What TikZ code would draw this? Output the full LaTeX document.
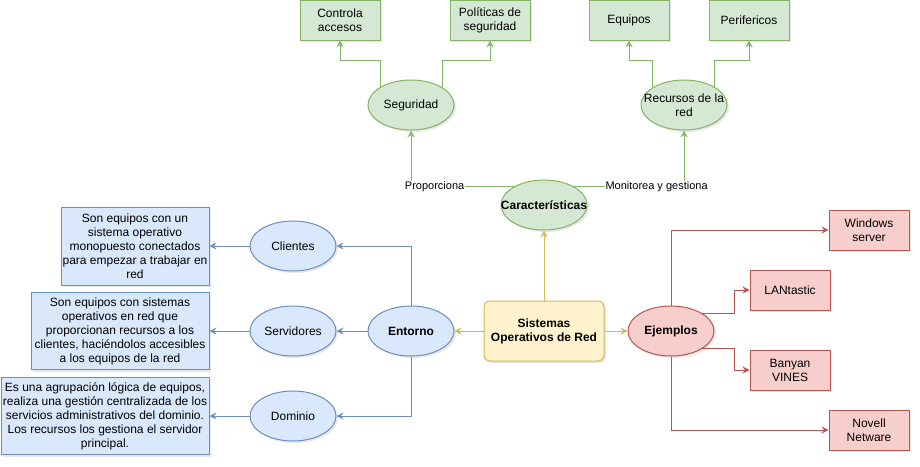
\documentclass[tikz,border=0pt]{standalone}
\usepackage{fontspec}
\setmainfont{Liberation Sans}
\usetikzlibrary{arrows.meta}
\usetikzlibrary{shapes.geometric}
\usetikzlibrary{shadows}
\definecolor{grnfill}{HTML}{D5E8D4}
\definecolor{grnline}{HTML}{82B366}
\definecolor{blufill}{HTML}{DAE8FC}
\definecolor{bluline}{HTML}{6C8EBF}
\definecolor{redfill}{HTML}{F8CECC}
\definecolor{redline}{HTML}{B85450}
\definecolor{yelfill}{HTML}{FFF2CC}
\definecolor{yelline}{HTML}{D6B656}
\tikzset{
	base/.style={line width=1pt,align=center,inner sep=0pt,
		font=\fontsize{12}{14}\selectfont,
		drop shadow={opacity=.18,shadow xshift=2pt,shadow yshift=-2pt}},
	box/.style={base,rectangle,minimum width=80pt,minimum height=40pt},
	oval/.style={base,ellipse,inner xsep=-15pt,minimum width=86pt,minimum height=50pt},
	green/.style={fill=grnfill,draw=grnline},
	blue/.style={fill=blufill,draw=bluline},
	red/.style={fill=redfill,draw=redline},
	tip/.style={-{Stealth[length=7pt,width=7pt,inset=2.5pt]},line width=1pt},
	lbl/.style={fill=white,text=black,inner sep=1pt,font=\fontsize{11}{13}\selectfont}
}
\begin{document}
\begin{tikzpicture}[x=1pt,y=-1pt]
		\useasboundingbox (0,0) rectangle (920,466);
		% top part
		\node[box,green] (ctrl) at (340,20) {Controla\\accesos};
		\node[box,green] (pol) at (490,20) {Políticas de\\seguridad};
		\node[box,green] (equ) at (629,20) {Equipos};
		\node[box,green] (per) at (749,20) {Perifericos};
		\node[oval,green] (seg) at (411,105) {Seguridad};
		\node[oval,green] (rec) at (684,105) {Recursos de la\\red};
		\node[oval,green,font=\fontsize{12}{14}\selectfont\bfseries] (car) at (544,205) {Características};
		\coordinate (topbend) at (0,60);
		\draw[tip,grnline] (seg.149) -- (seg.149 |- topbend) -| (ctrl.south);
		\draw[tip,grnline] (seg.29) -- (seg.29 |- topbend) -| (pol.south);
		\draw[tip,grnline] (rec.151) -- (rec.151 |- topbend) -| (equ.south);
		\draw[tip,grnline] (rec.31) -- (rec.31 |- topbend) -| (per.south);
		\draw[tip,grnline] (car.149) -- node[lbl,pos=.77]{Proporciona} (car.149 -| seg.south) -- (seg.south);
		\draw[tip,grnline] (car.31) -- node[lbl,pos=.75]{Monitorea y gestiona} (car.31 -| rec.south) -- (rec.south);
		% centre
		\node[base,rectangle,rounded corners=6pt,fill=yelfill,draw=yelline,
			minimum width=120pt,minimum height=60pt,font=\fontsize{12}{14}\selectfont\bfseries] (sor) at (544,331) {Sistemas\\Operativos de Red};
		% left part
		\node[oval,blue,font=\fontsize{12}{14}\selectfont\bfseries] (ent) at (411,331) {Entorno};
		\node[oval,blue] (cli) at (293,246) {Clientes};
		\node[oval,blue] (srv) at (293,331) {Servidores};
		\node[oval,blue] (dom) at (293,416) {Dominio};
		\node[box,blue,minimum width=148pt,minimum height=78pt] (clit) at (135,246)
			{Son equipos con un\\sistema operativo\\monopuesto conectados\\para empezar a trabajar en\\red};
		\node[box,blue,minimum width=178pt,minimum height=77pt] (srvt) at (120,331)
			{Son equipos con sistemas\\operativos en red que\\proporcionan recursos a los\\clientes, haciéndolos accesibles\\a los equipos de la red};
		\node[box,blue,minimum width=208pt,minimum height=77pt] (domt) at (105,416)
			{Es una agrupación lógica de equipos,\\realiza una gestión centralizada de los\\servicios administrativos del dominio.\\Los recursos los gestiona el servidor\\principal.};
		\draw[tip,bluline] (ent.north) |- (cli.east);
		\draw[tip,bluline] (ent.west) -- (srv.east);
		\draw[tip,bluline] (ent.south) |- (dom.east);
		\draw[tip,bluline] (cli.west) -- (clit.east);
		\draw[tip,bluline] (srv.west) -- (srvt.east);
		\draw[tip,bluline] (dom.west) -- (domt.east);
		% right part
		\node[oval,red,font=\fontsize{12}{14}\selectfont\bfseries] (ej) at (671,331) {Ejemplos};
		\node[box,red] (win) at (869,230) {Windows\\server};
		\node[box,red] (lan) at (790,290) {LANtastic};
		\node[box,red] (ban) at (790,370) {Banyan\\VINES};
		\node[box,red] (nov) at (869,430) {Novell\\Netware};
		\coordinate (ejbend) at (734,0);
		\draw[tip,redline] (ej.north) |- (win.west);
		\draw[tip,redline] (ej.30) -- (ej.30 -| ejbend) |- (lan.west);
		\draw[tip,redline] (ej.-30) -- (ej.-30 -| ejbend) |- (ban.west);
		\draw[tip,redline] (ej.south) |- (nov.west);
		% from the centre
		\draw[tip,yelline] (sor.north) -- (car.south);
		\draw[tip,yelline] (sor.west) -- (ent.east);
		\draw[tip,yelline] (sor.east) -- (ej.west);
	\end{tikzpicture}
\end{document}
